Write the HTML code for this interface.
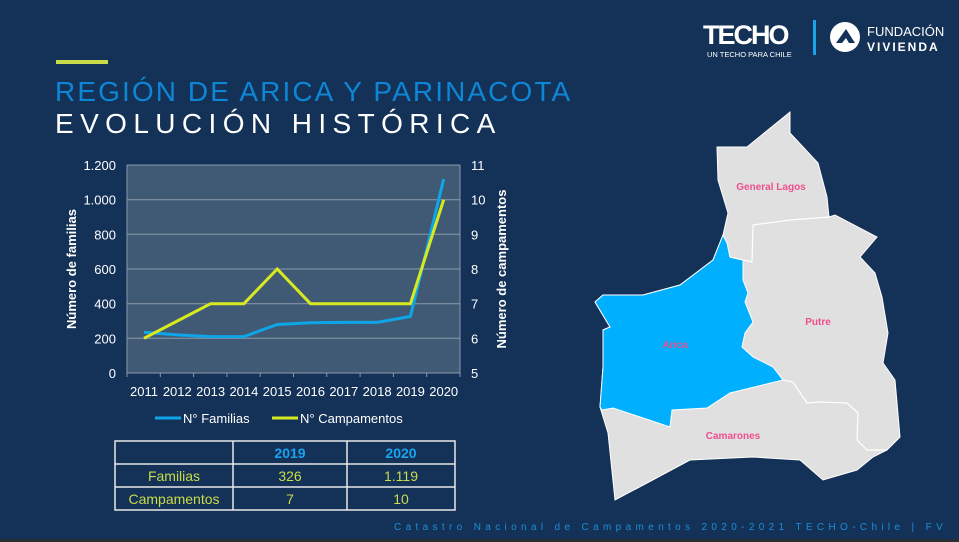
<!DOCTYPE html>
<html><head><meta charset="utf-8"><style>
body{margin:0;width:959px;height:542px;overflow:hidden;background:#143157;font-family:"Liberation Sans",sans-serif;}
</style></head><body>
<svg width="959" height="542" viewBox="0 0 959 542" xmlns="http://www.w3.org/2000/svg" style="position:absolute;left:0;top:0">
<rect width="959" height="542" fill="#143157"/>
<rect x="0" y="539" width="959" height="3" fill="#2a2f36"/>
<rect x="56" y="60" width="52" height="4" fill="#c9dc4a"/>
<text x="55" y="101" font-size="28" fill="#0d86d6" letter-spacing="2.1">REGIÓN DE ARICA Y PARINACOTA</text>
<text x="55" y="133" font-size="28" fill="#ffffff" letter-spacing="6.4">EVOLUCIÓN HISTÓRICA</text>
<!-- logos -->
<text x="703" y="44" font-size="27" font-weight="bold" fill="#fff" letter-spacing="-2">TECHO</text>
<text x="707" y="57" font-size="7.5" fill="#fff">UN TECHO PARA CHILE</text>
<rect x="813" y="20" width="3" height="35" fill="#1aa3e8"/>
<circle cx="845" cy="37" r="15" fill="#fff"/>
<path d="M836 43 L846 29 L855 43 L849 43 L846 38 L842 43Z" fill="#143157"/>
<text x="867" y="36" font-size="13" fill="#fff">FUNDACIÓN</text>
<text x="867" y="51" font-size="12" font-weight="bold" fill="#fff" letter-spacing="2">VIVIENDA</text>
<!-- chart -->
<rect x="127" y="165" width="333" height="208" fill="#405a75"/>
<g stroke="#8a9aaa" stroke-width="1">
<line x1="127" y1="165" x2="460" y2="165"/><line x1="127" y1="199.7" x2="460" y2="199.7"/>
<line x1="127" y1="234.3" x2="460" y2="234.3"/><line x1="127" y1="269" x2="460" y2="269"/>
<line x1="127" y1="303.7" x2="460" y2="303.7"/><line x1="127" y1="338.3" x2="460" y2="338.3"/>
<line x1="127" y1="373" x2="460" y2="373"/>
<line x1="127" y1="165" x2="127" y2="377"/><line x1="460" y1="165" x2="460" y2="377"/>
<line x1="160.3" y1="373" x2="160.3" y2="377"/><line x1="193.6" y1="373" x2="193.6" y2="377"/>
<line x1="226.9" y1="373" x2="226.9" y2="377"/><line x1="260.2" y1="373" x2="260.2" y2="377"/>
<line x1="293.5" y1="373" x2="293.5" y2="377"/><line x1="326.8" y1="373" x2="326.8" y2="377"/>
<line x1="360.1" y1="373" x2="360.1" y2="377"/><line x1="393.4" y1="373" x2="393.4" y2="377"/>
<line x1="426.7" y1="373" x2="426.7" y2="377"/>
</g>
<polyline fill="none" stroke="#0ea5e9" stroke-width="3" points="144,332.3 177.3,334.9 210.6,336.6 243.9,336.6 277.2,324.5 310.5,322.7 343.8,322.4 377.1,322.4 410.4,316.5 443.7,179"/>
<polyline fill="none" stroke="#d7ea1f" stroke-width="3" points="144,338.3 177.3,321 210.6,303.7 243.9,303.7 277.2,269 310.5,303.7 343.8,303.7 377.1,303.7 410.4,303.7 443.7,199.7"/>
<g font-size="13" fill="#fff" text-anchor="end">
<text x="116" y="170">1.200</text><text x="116" y="204.7">1.000</text><text x="116" y="239.3">800</text>
<text x="116" y="274">600</text><text x="116" y="308.7">400</text><text x="116" y="343.3">200</text><text x="116" y="378">0</text>
</g>
<g font-size="13" fill="#fff">
<text x="471" y="170">11</text><text x="471" y="204.7">10</text><text x="471" y="239.3">9</text>
<text x="471" y="274">8</text><text x="471" y="308.7">7</text><text x="471" y="343.3">6</text><text x="471" y="378">5</text>
</g>
<g font-size="13" fill="#fff" text-anchor="middle">
<text x="144" y="396">2011</text><text x="177.3" y="396">2012</text><text x="210.6" y="396">2013</text>
<text x="243.9" y="396">2014</text><text x="277.2" y="396">2015</text><text x="310.5" y="396">2016</text>
<text x="343.8" y="396">2017</text><text x="377.1" y="396">2018</text><text x="410.4" y="396">2019</text>
<text x="443.7" y="396">2020</text>
</g>
<text transform="translate(76,269) rotate(-90)" font-size="13" font-weight="bold" fill="#fff" text-anchor="middle">Número de familias</text>
<text transform="translate(506,269) rotate(-90)" font-size="13" font-weight="bold" fill="#fff" text-anchor="middle">Número de campamentos</text>
<line x1="155" y1="418" x2="181" y2="418" stroke="#0ea5e9" stroke-width="3"/>
<text x="183" y="423" font-size="13" fill="#fff">N° Familias</text>
<line x1="272" y1="418" x2="298" y2="418" stroke="#d7ea1f" stroke-width="3"/>
<text x="300" y="423" font-size="13" fill="#fff">N° Campamentos</text>
<!-- table -->
<g stroke="#e8e8e8" stroke-width="1.5" fill="none">
<rect x="115" y="441" width="340" height="69"/>
<line x1="233" y1="441" x2="233" y2="510"/><line x1="347" y1="441" x2="347" y2="510"/>
<line x1="115" y1="464" x2="455" y2="464"/><line x1="115" y1="487" x2="455" y2="487"/>
</g>
<g font-size="14" text-anchor="middle">
<text x="290" y="458" fill="#1aa3f0" font-weight="bold">2019</text>
<text x="401" y="458" fill="#1aa3f0" font-weight="bold">2020</text>
<text x="174" y="481" fill="#c9dc4a">Familias</text>
<text x="290" y="481" fill="#c9dc4a">326</text>
<text x="401" y="481" fill="#c9dc4a">1.119</text>
<text x="174" y="504" fill="#c9dc4a">Campamentos</text>
<text x="290" y="504" fill="#c9dc4a">7</text>
<text x="401" y="504" fill="#c9dc4a">10</text>
</g>
<text x="394" y="530" font-size="10" fill="#1a8fd8" letter-spacing="4.35">Catastro Nacional de Campamentos 2020-2021 TECHO-Chile | FV</text>
<!-- map -->
<polygon fill="#e0e0e0" stroke="#fff" stroke-width="1" points="790,112 790,133 818,163 827,197 829,217 835,215 877,237 860,257 875,273 882,297 888,333 883,363 895,380 900,437 887,450 873,457 857,470 823,480 800,460 753,457 690,460 647,483 615,500 608,433 600,407 603,367 603,330 610,327 595,302 603,295 643,295 680,285 713,260 723,235 728,213 718,180 717,147 747,147"/>
<polygon fill="#00b0ff" stroke="#fff" stroke-width="1" points="723,235 727,243 730,257 743,260 743,280 748,293 745,302 753,322 745,333 742,347 753,357 773,367 783,380 730,393 707,408 672,410 670,427 613,408 602,410 600,407 603,367 603,330 610,327 595,302 603,295 643,295 680,285 713,260"/>
<g fill="none" stroke="#fff" stroke-width="1.2">
<polyline points="730,257 752,262 753,225 790,220 830,217"/>
<polyline points="783,380 793,382 807,403 820,402 847,403 858,413 857,440 867,450 887,450"/>
</g>
<g font-size="10" font-weight="bold" fill="#ef4f8a" text-anchor="middle">
<text x="771" y="190">General Lagos</text>
<text x="818" y="325">Putre</text>
<text x="675" y="348">Arica</text>
<text x="733" y="439">Camarones</text>
</g>
</svg>
</body></html>
